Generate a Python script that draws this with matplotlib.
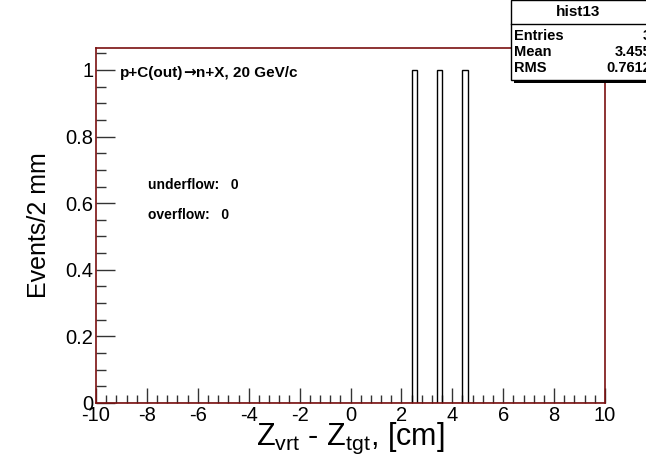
import numpy as np
import matplotlib
matplotlib.use("Agg")
import matplotlib.pyplot as plt
from matplotlib.patches import Rectangle
from matplotlib.lines import Line2D
from matplotlib.ticker import MultipleLocator
from matplotlib.offsetbox import TextArea, HPacker, AnnotationBbox

plt.rcParams['font.family'] = ['Liberation Sans', 'DejaVu Sans']
plt.rcParams['mathtext.fontset'] = 'custom'
plt.rcParams['mathtext.rm'] = 'Liberation Sans'
plt.rcParams['mathtext.it'] = 'Liberation Sans'
plt.rcParams['axes.unicode_minus'] = False

# Z vertex - Z target hits (cm), one entry per bin of 2 mm
hits = [2.5, 3.5, 4.5]
x_range = (-10, 10)
bin_width = 0.2

# reaction label pieces
reaction = ["p+C(out)", "\u2192", "n+X, 20 GeV/c"]

# stats box contents
hist_name = "hist13"
stat_names = ["Entries", "Mean", "RMS"]
stat_values = ["3", "3.455", "0.7612"]
n_underflow = 0
n_overflow = 0

W, H = 646, 463
fig = plt.figure(figsize=(W / 100, H / 100), dpi=100)
ax = fig.add_axes([96 / W, 1 - 403 / H, (605 - 96) / W, (403 - 48) / H])

edges = np.arange(x_range[0], x_range[1] + bin_width / 2, bin_width)
ax.hist(hits, bins=edges, histtype='step', color='black', lw=1.0, zorder=2)

ax.set_xlim(*x_range)
ax.set_ylim(0, 1.066)

frame = '#7a1010'
for s in ax.spines.values():
    s.set_color(frame)
    s.set_linewidth(1.2)
    s.set_zorder(3)

ax.xaxis.set_major_locator(MultipleLocator(2))
ax.xaxis.set_minor_locator(MultipleLocator(0.4))
ax.yaxis.set_major_locator(MultipleLocator(0.2))
ax.yaxis.set_minor_locator(MultipleLocator(0.05))
ax.tick_params(which='both', direction='in', top=False, right=False,
               color='#333333', width=1)
ax.tick_params(axis='x', which='major', length=11, pad=2, labelsize=14.5)
ax.tick_params(axis='x', which='minor', length=6)
ax.tick_params(axis='y', which='major', length=14, pad=2, labelsize=14.5)
ax.tick_params(axis='y', which='minor', length=7)
ax.set_yticks([0, 0.2, 0.4, 0.6, 0.8, 1.0])
ax.set_yticklabels(['0', '0.2', '0.4', '0.6', '0.8', '1'])

ax.set_ylabel("Events/2 mm", fontsize=18, labelpad=10)
ax.set_xlabel(r"Z$_{\mathrm{vrt}}$ - Z$_{\mathrm{tgt}}$, [cm]", fontsize=22,
              labelpad=-3)


def px(x, y):
    return x / W, 1 - y / H


# reaction label: arrow taken from DejaVu, which has a full-size glyph
pieces = []
for i, s in enumerate(reaction):
    fam = ['DejaVu Sans'] if i == 1 else ['Liberation Sans']
    pieces.append(TextArea(s, textprops=dict(fontsize=11, fontweight='bold',
                                             family=fam)))
label_box = HPacker(children=pieces, pad=0, sep=0, align='baseline')
fig.add_artist(AnnotationBbox(label_box, px(120, 72),
                              xycoords='figure fraction', box_alignment=(0, 0.5),
                              frameon=False, pad=0))

fig.text(*px(148, 185), f"underflow:   {n_underflow}", fontsize=10,
         fontweight='bold', va='center')
fig.text(*px(148, 215), f"overflow:   {n_overflow}", fontsize=10,
         fontweight='bold', va='center')

# stats box in the upper right corner
bx0, by0, bx1, by1 = 511, 0, 660, 80
fig.patches.append(Rectangle(px(bx0 + 3, by1 + 3), (bx1 - bx0) / W,
                             (by1 - by0) / H, transform=fig.transFigure,
                             facecolor='black', edgecolor='none', zorder=5))
fig.patches.append(Rectangle(px(bx0, by1), (bx1 - bx0) / W,
                             (by1 - by0) / H, transform=fig.transFigure,
                             facecolor='white', edgecolor='black', lw=1,
                             zorder=6))
fig.lines.append(Line2D([bx0 / W, bx1 / W], [1 - 24 / H, 1 - 24 / H],
                        transform=fig.transFigure, color='black', lw=1,
                        zorder=7))
fig.text(*px(578, 12), hist_name, fontsize=11, fontweight='bold',
         ha='center', va='center', zorder=8)
for i, (name, val) in enumerate(zip(stat_names, stat_values)):
    y = 36 + 16 * i
    fig.text(*px(514, y), name, fontsize=10.5, fontweight='bold',
             va='center', zorder=8)
    fig.text(*px(651, y), val, fontsize=10.5, fontweight='bold',
             ha='right', va='center', zorder=8)

fig.savefig("out.png", dpi=100)
